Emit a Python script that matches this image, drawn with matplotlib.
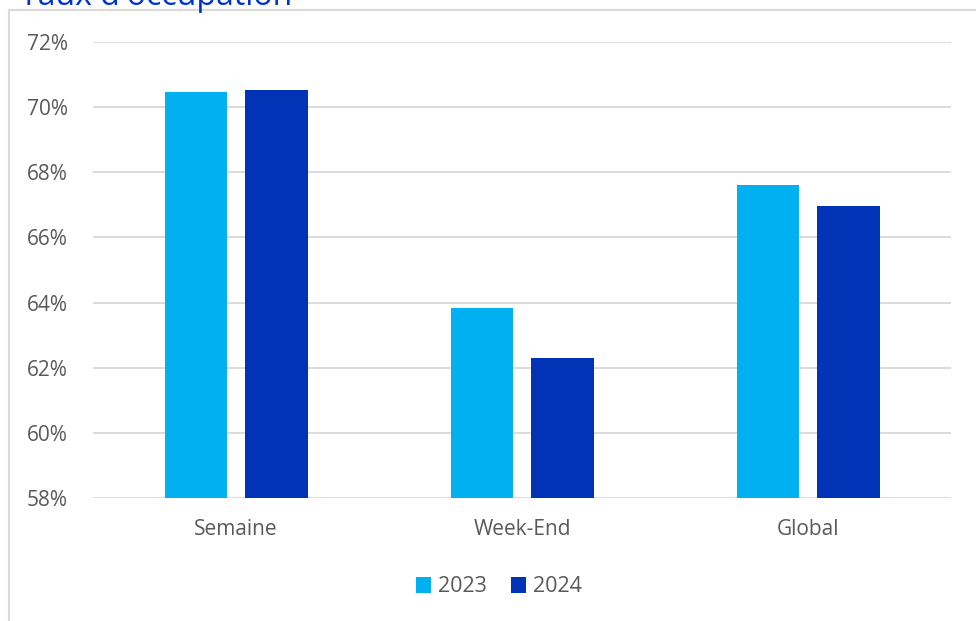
import matplotlib.pyplot as plt
import numpy as np
from matplotlib.lines import Line2D

categories = ["Semaine", "Week-End", "Global"]
series_names = ["2023", "2024"]
values_2023 = [70.47, 63.83, 67.61]
values_2024 = [70.53, 62.30, 66.97]
yticks = [58, 60, 62, 64, 66, 68, 70, 72]

colors = ["#00B0F0", "#0033B5"]
text_col = "#595959"
plt.rcParams["font.family"] = ["Open Sans", "DejaVu Sans"]

W, H = 976, 621
fig = plt.figure(figsize=(W / 100, H / 100), dpi=100)
ax = fig.add_axes([93 / W, 1 - 498 / H, (951 - 93) / W, (498 - 42) / H])

x = np.arange(len(categories))
bw = 0.22
off = 0.14
ax.bar(x - off, values_2023, bw, color=colors[0], label=series_names[0], zorder=3)
ax.bar(x + off, values_2024, bw, color=colors[1], label=series_names[1], zorder=3)

ax.set_xlim(-0.5, 2.5)
ax.set_ylim(58, 72)
ax.set_yticks(yticks)
ax.set_yticklabels([f"{t}%" for t in yticks], fontsize=15, color=text_col)
ax.set_xticks(x)
ax.set_xticklabels(categories, fontsize=15, color=text_col)
ax.tick_params(axis="both", length=0)
ax.tick_params(axis="y", pad=18)
ax.tick_params(axis="x", pad=15)
ax.yaxis.grid(True, color="#D9D9D9", linewidth=1.3, zorder=0)
for s in ax.spines.values():
    s.set_visible(False)

ax.legend(loc="center", bbox_to_anchor=(499 / W, 1 - 587 / H),
          bbox_transform=fig.transFigure, ncol=2, frameon=False,
          fontsize=15.5, handlelength=0.7, handleheight=0.7,
          handletextpad=0.35, columnspacing=1.1, labelcolor=text_col)

# chart border (partially visible)
fig.add_artist(Line2D([9 / W, 9 / W], [0, 1 - 10 / H], color="#D9D9D9", lw=1.5,
                      transform=fig.transFigure))
fig.add_artist(Line2D([9 / W, 1], [1 - 10 / H, 1 - 10 / H], color="#D9D9D9", lw=1.5,
                      transform=fig.transFigure))

fig.text(20 / W, 1 - 5 / H, "Taux d'occupation", fontsize=23, color="#0033CC",
         va="baseline", ha="left")

fig.savefig("out.png", dpi=100)
